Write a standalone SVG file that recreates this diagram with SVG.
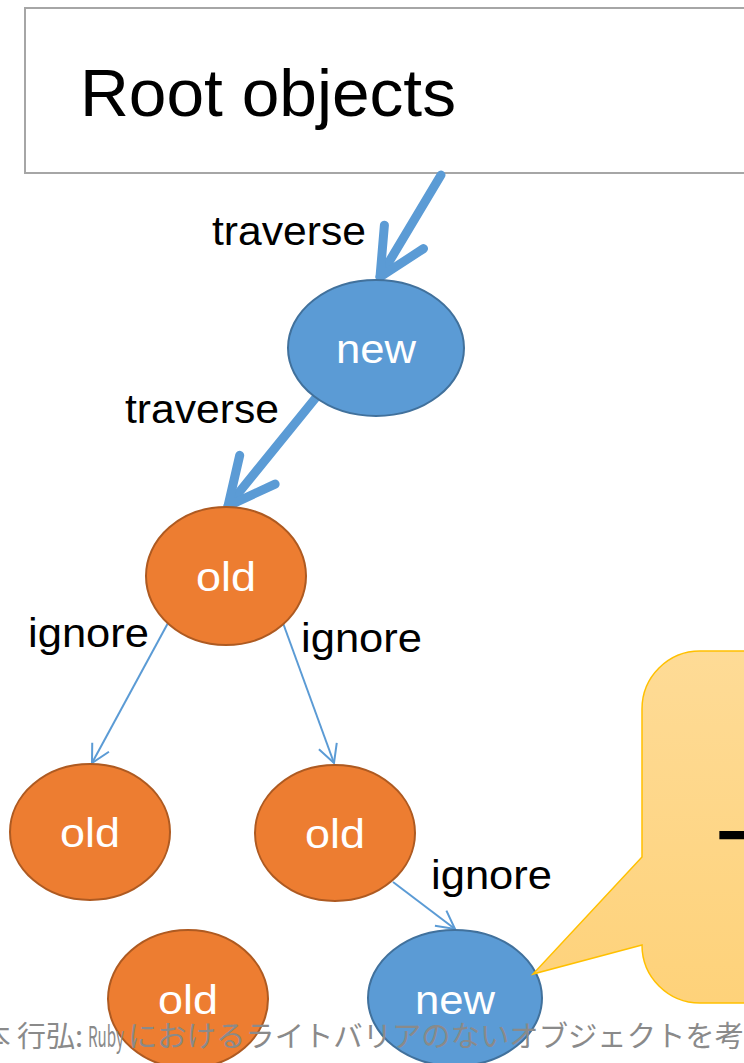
<svg xmlns="http://www.w3.org/2000/svg" width="744" height="1063" viewBox="0 0 744 1063">
<style>
.lbl{font-family:"Liberation Sans",Arial,sans-serif;font-size:41px;fill:#000}
.ntxt{font-family:"Liberation Sans",Arial,sans-serif;font-size:41px;fill:#fff;text-anchor:middle}
.new{fill:#5b9bd5;stroke:#41719c;stroke-width:2}
.old{fill:#ed7d31;stroke:#ae5a21;stroke-width:2}
.thick{stroke:#5b9bd5;stroke-width:9;stroke-linecap:round;fill:none}
.thin{stroke:#5b9bd5;stroke-width:2;fill:none}
</style>
<defs>
<marker id="hThick" markerUnits="userSpaceOnUse" orient="auto" refX="0" refY="0" markerWidth="10" markerHeight="10" overflow="visible">
<path d="M-46.7,-22.8 L0,0 L-46.7,22.8" fill="none" stroke="#5b9bd5" stroke-width="9" stroke-linecap="round" stroke-linejoin="round"/>
</marker>
<marker id="hThin" markerUnits="userSpaceOnUse" orient="auto" refX="0" refY="0" markerWidth="10" markerHeight="10" overflow="visible">
<path d="M-18,-9.5 L0,0 L-18,9.5" fill="none" stroke="#5b9bd5" stroke-width="2"/>
</marker>
<linearGradient id="cg" x1="0" y1="0" x2="0" y2="1">
<stop offset="0" stop-color="#fedb96"/>
<stop offset="1" stop-color="#fed27a"/>
</linearGradient>
</defs>

<g id="root">
<rect x="25" y="8" width="740" height="165" fill="#fff" stroke="#a6a6a6" stroke-width="2"/>
<text x="80" y="116" font-family="Liberation Sans, Arial, sans-serif" font-size="67" textLength="376" lengthAdjust="spacingAndGlyphs">Root objects</text>
</g>

<g id="connectors">
<line class="thick" x1="441" y1="175" x2="380" y2="277" marker-end="url(#hThick)"/>
<line class="thick" x1="318" y1="395" x2="228" y2="506" marker-end="url(#hThick)"/>
<line class="thin" x1="168" y1="623" x2="92" y2="763" marker-end="url(#hThin)"/>
<line class="thin" x1="283" y1="623" x2="334" y2="763" marker-end="url(#hThin)"/>
<line class="thin" x1="393" y1="882" x2="455" y2="929" marker-end="url(#hThin)"/>
<text class="lbl" x="212" y="245" textLength="154" lengthAdjust="spacingAndGlyphs">traverse</text>
<text class="lbl" x="125" y="423" textLength="154" lengthAdjust="spacingAndGlyphs">traverse</text>
<text class="lbl" x="28" y="647" textLength="121" lengthAdjust="spacingAndGlyphs">ignore</text>
<text class="lbl" x="301" y="652" textLength="121" lengthAdjust="spacingAndGlyphs">ignore</text>
<text class="lbl" x="431" y="889" textLength="121" lengthAdjust="spacingAndGlyphs">ignore</text>
</g>

<g id="node-new1">
<ellipse class="new" cx="376" cy="348" rx="88" ry="68"/>
<text class="ntxt" x="376" y="363" textLength="80" lengthAdjust="spacingAndGlyphs">new</text>
</g>
<g id="node-old1">
<ellipse class="old" cx="226" cy="576" rx="80" ry="69"/>
<text class="ntxt" x="226" y="591" textLength="60" lengthAdjust="spacingAndGlyphs">old</text>
</g>
<g id="node-old2">
<ellipse class="old" cx="90" cy="832" rx="80" ry="68"/>
<text class="ntxt" x="90" y="847" textLength="60" lengthAdjust="spacingAndGlyphs">old</text>
</g>
<g id="node-old3">
<ellipse class="old" cx="335" cy="833" rx="80" ry="68"/>
<text class="ntxt" x="335" y="848" textLength="60" lengthAdjust="spacingAndGlyphs">old</text>
</g>
<g id="node-old4">
<ellipse class="old" cx="188" cy="999" rx="80" ry="69"/>
<text class="ntxt" x="188" y="1014" textLength="60" lengthAdjust="spacingAndGlyphs">old</text>
</g>
<g id="node-new2">
<ellipse class="new" cx="455" cy="998" rx="87" ry="68"/>
<text class="ntxt" x="455" y="1014" textLength="80" lengthAdjust="spacingAndGlyphs">new</text>
</g>

<g id="callout">
<path d="M700,651 L800,651 L800,1003 L700,1003 A58,58 0 0 1 642,945 L533,974 L642,857 L642,709 A58,58 0 0 1 700,651 Z" fill="url(#cg)" stroke="#ffc000" stroke-width="1.5"/>
<text x="717" y="860" font-family="Noto Sans CJK JP, sans-serif" font-weight="bold" font-size="62" fill="#000">一</text>
</g>

<g id="footer">
<text y="1047" font-family="Noto Sans CJK JP, sans-serif" font-size="29" fill="#8a8a8a"><tspan x="-18.5">本 行弘:</tspan><tspan x="88" textLength="36" lengthAdjust="spacingAndGlyphs">Ruby</tspan><tspan x="128" textLength="616" lengthAdjust="spacingAndGlyphs">におけるライトバリアのないオブジェクトを考</tspan></text>
</g>
</svg>
